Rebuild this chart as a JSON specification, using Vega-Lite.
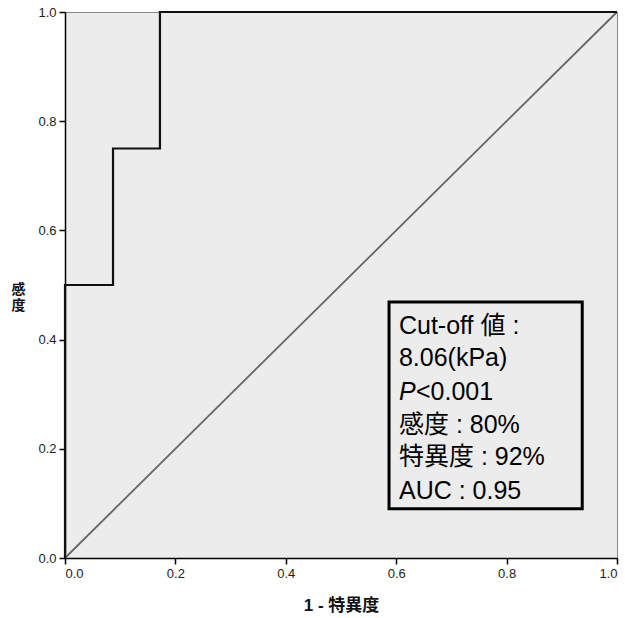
{
  "$schema": "https://vega.github.io/schema/vega-lite/v6.json",
  "width": 552,
  "height": 546,
  "autosize": "none",
  "padding": {"left": 65, "top": 12, "right": 8, "bottom": 60},
  "background": "white",
  "config": {
    "view": {"fill": "#ececec", "stroke": "#888888", "strokeWidth": 1},
    "axis": {
      "grid": false,
      "domainColor": "#000000",
      "domainWidth": 1.5,
      "tickColor": "#000000",
      "tickWidth": 1.5,
      "tickSize": 6,
      "labelFont": "Liberation Sans",
      "labelFontSize": 13,
      "labelColor": "#222222",
      "labelPadding": 3,
      "titleFont": "Liberation Sans, Noto Sans CJK JP",
      "titleColor": "#111111",
      "titleFontWeight": "bold"
    }
  },
  "datasets": {
    "roc": [
      {"step": 1, "fpr": 0, "tpr": 0},
      {"step": 2, "fpr": 0, "tpr": 0.5},
      {"step": 3, "fpr": 0.087, "tpr": 0.5},
      {"step": 4, "fpr": 0.087, "tpr": 0.75},
      {"step": 5, "fpr": 0.172, "tpr": 0.75},
      {"step": 6, "fpr": 0.172, "tpr": 1},
      {"step": 7, "fpr": 1, "tpr": 1}
    ],
    "diag": [
      {"fpr": 0, "tpr": 0},
      {"fpr": 1, "tpr": 1}
    ],
    "box": [
      {"fpr": 0.587, "fpr2": 0.937, "tpr": 0.09, "tpr2": 0.469}
    ],
    "notes": [
      {"t": "Cut-off 値 :", "fpr": 0.605, "tpr": 0.425},
      {"t": "8.06(kPa)", "fpr": 0.605, "tpr": 0.366},
      {"t": "感度 : 80%", "fpr": 0.605, "tpr": 0.244},
      {"t": "特異度 : 92%", "fpr": 0.605, "tpr": 0.185},
      {"t": "AUC : 0.95", "fpr": 0.605, "tpr": 0.123}
    ],
    "pnote": [
      {"p": "P", "t": "<0.001", "fpr": 0.605, "tpr": 0.304}
    ]
  },
  "encoding": {
    "x": {
      "field": "fpr",
      "type": "quantitative",
      "scale": {"domain": [0, 1], "nice": false, "zero": false},
      "axis": {
        "values": [0, 0.2, 0.4, 0.6, 0.8, 1],
        "format": ".1f",
        "title": "1 - 特異度",
        "titleFontSize": 17,
        "titleY": 47,
        "titleBaseline": "middle"
      }
    },
    "y": {
      "field": "tpr",
      "type": "quantitative",
      "scale": {"domain": [0, 1], "nice": false, "zero": false},
      "axis": {
        "values": [0, 0.2, 0.4, 0.6, 0.8, 1],
        "format": ".1f",
        "title": ["感", "度"],
        "titleFontSize": 14,
        "titleAngle": 0,
        "titleX": -47,
        "titleY": 270,
        "titleAlign": "center",
        "titleBaseline": "top",
        "titleLineHeight": 16
      }
    }
  },
  "layer": [
    {
      "data": {"name": "diag"},
      "mark": {"type": "line", "color": "#666666", "strokeWidth": 1.8}
    },
    {
      "data": {"name": "roc"},
      "mark": {"type": "line", "color": "#111111", "strokeWidth": 2.2},
      "encoding": {"order": {"field": "step", "type": "quantitative"}}
    },
    {
      "data": {"name": "box"},
      "mark": {"type": "rect", "fillOpacity": 0, "stroke": "#000000", "strokeWidth": 3},
      "encoding": {
        "x2": {"field": "fpr2"},
        "y2": {"field": "tpr2"}
      }
    },
    {
      "data": {"name": "notes"},
      "mark": {"type": "text", "align": "left", "baseline": "middle", "fontSize": 25, "font": "Liberation Sans, Noto Sans CJK JP", "color": "#000000"},
      "encoding": {"text": {"field": "t"}}
    },
    {
      "data": {"name": "pnote"},
      "mark": {"type": "text", "align": "left", "baseline": "middle", "fontSize": 25, "font": "Liberation Sans", "fontStyle": "italic", "color": "#000000"},
      "encoding": {"text": {"field": "p"}}
    },
    {
      "data": {"name": "pnote"},
      "mark": {"type": "text", "align": "left", "baseline": "middle", "dx": 17, "fontSize": 25, "font": "Liberation Sans", "color": "#000000"},
      "encoding": {"text": {"field": "t"}}
    }
  ]
}
